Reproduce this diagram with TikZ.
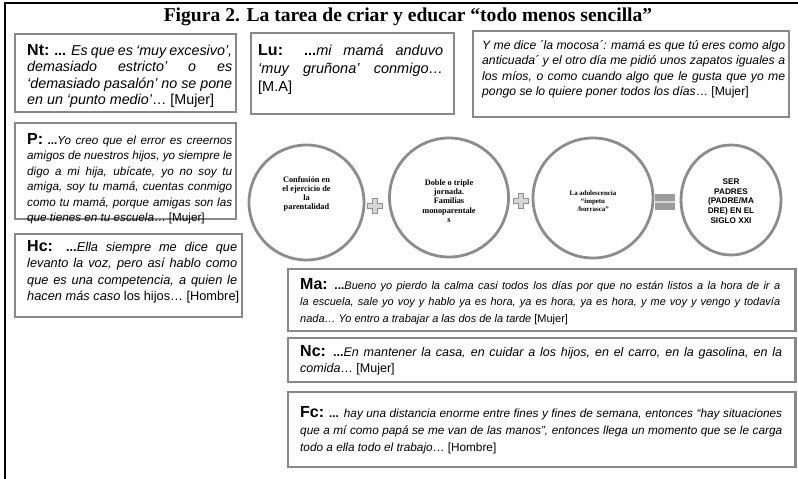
\documentclass[tikz,border=0pt]{standalone}
\usepackage{fontspec}
\setmainfont{Liberation Sans}
\newfontfamily\serifbf{Liberation Serif}
\usetikzlibrary{fit,shapes.geometric}
\definecolor{framegray}{HTML}{898989}
\definecolor{ringgray}{HTML}{8C8C8C}
\definecolor{pluslight}{HTML}{D6D6D6}
\definecolor{plusedge}{HTML}{8F8F8F}
\definecolor{eqgray}{HTML}{9C9C9C}
\newcommand{\lbl}[1]{{\fontsize{16}{16}\selectfont\bfseries #1}}
\newcommand{\fsz}[2]{\fontsize{#1}{#2}\selectfont}
\newcommand{\jl}[2]{\makebox[#1][s]{#2}}
\begin{document}
\begin{tikzpicture}[x=1pt,y=-1pt,
  qframe/.style={draw=framegray, line width=2.8pt, fill=white, inner sep=0pt},
  qtext/.style={anchor=north west, inner sep=0pt, align=left},
  ring/.style={draw=ringgray, line width=2.8pt, fill=white, inner sep=0pt},
  ringtext/.style={align=center, inner sep=0pt},
  plusop/.style={fill=pluslight, draw=plusedge, line width=0.9pt},
]
\useasboundingbox (0,0) rectangle (798,479);
\fill[white] (0,0) rectangle (798,479);

% outer frame (top and left edges visible)
\coordinate (fbl) at (5,479);
\coordinate (ftl) at (5,3);
\coordinate (ftr) at (798,3);
\draw[line width=1.2pt] (fbl) -- (ftl) -- (ftr);

% title
\node[anchor=base, inner sep=0pt, font=\serifbf\bfseries\fsz{19.6}{21}] (title) at (408,21)
  {Figura 2. La tarea de criar y educar “todo menos sencilla”};

% quote frames
\coordinate (nt-a) at (15,34);   \coordinate (nt-b) at (236,112);
\coordinate (p-a) at (15,123);   \coordinate (p-b) at (236,219);
\coordinate (hc-a) at (15,234);  \coordinate (hc-b) at (242,317);
\coordinate (lu-a) at (251,33);  \coordinate (lu-b) at (454,114);
\coordinate (ym-a) at (473,31);  \coordinate (ym-b) at (789,117);
\coordinate (ma-a) at (288,269); \coordinate (ma-b) at (795.5,331);
\coordinate (nc-a) at (288,338); \coordinate (nc-b) at (795.5,382);
\coordinate (fc-a) at (288,392); \coordinate (fc-b) at (795.5,467);
\foreach \n in {nt,p,hc,lu,ym,ma,nc,fc}{
  \node[qframe, fit=(\n-a)(\n-b)] (\n) {};
}

% quote texts
\node[qtext, font=\fsz{14.3}{16.5}] (ntT) at (27,44) {%
\jl{205pt}{\lbl{Nt:} \textbf{...} \textit{Es que es ‘muy excesivo’,}}\\
\jl{205pt}{\textit{demasiado estricto’ o es}}\\
\jl{205pt}{\textit{‘demasiado pasalón’ no se pone}}\\
\textit{en un ‘punto medio’}… {[Mujer]}};

\node[qtext, font=\fsz{11.7}{15.5}] (pT) at (27,133) {%
\jl{205pt}{\lbl{P:} \textbf{...}\textit{Yo creo que el error es creernos}}\\
\jl{205pt}{\textit{amigos de nuestros hijos, yo siempre le}}\\
\jl{205pt}{\textit{digo a mi hija, ubícate, yo no soy tu}}\\
\jl{205pt}{\textit{amiga, soy tu mamá, cuentas conmigo}}\\
\jl{205pt}{\textit{como tu mamá, porque amigas son las}}\\
\textit{que tienes en tu escuela}… {[Mujer]}};

\node[qtext, font=\fsz{12.8}{16.5}] (hcT) at (27,240) {%
\jl{210pt}{\lbl{Hc:} \textbf{...}\textit{Ella siempre me dice que}}\\
\jl{210pt}{\textit{levanto la voz, pero así hablo como}}\\
\jl{210pt}{\textit{que es una competencia, a quien le}}\\
\textit{hacen más caso} los hijos… {[Hombre]}};

\node[qtext, font=\fsz{14.5}{18}] (luT) at (258,44) {%
\jl{185pt}{\lbl{Lu:} \textbf{...}\textit{mi mamá anduvo}}\\
\jl{185pt}{\textit{‘muy gruñona’ conmigo…}}\\
{[M.A]}};

\node[qtext, font=\fsz{12.2}{15.5}] (ymT) at (482,40) {%
\jl{303pt}{\textit{Y me dice ´la mocosa´: mamá es que tú eres como algo}}\\
\jl{303pt}{\textit{anticuada´ y el otro día me pidió unos zapatos iguales a}}\\
\jl{303pt}{\textit{los míos, o como cuando algo que le gusta que yo me}}\\
\textit{pongo se lo quiere poner todos los días}… {[Mujer]}};

\node[qtext, font=\fsz{11}{16.5}] (maT) at (300,278) {%
\jl{480pt}{\lbl{Ma:} \textbf{\fsz{12}{12}...}\textit{Bueno yo pierdo la calma casi todos los días por que no están listos a la hora de ir a}}\\
\jl{480pt}{\textit{la escuela, sale yo voy y hablo ya es hora, ya es hora, ya es hora, y me voy y vengo y todavía}}\\
\textit{nada… Yo entro a trabajar a las dos de la tarde} {[Mujer]}};

\node[qtext, font=\fsz{12.5}{16.5}] (ncT) at (300,345) {%
\jl{482pt}{\lbl{Nc:} \textbf{...}\textit{En mantener la casa, en cuidar a los hijos, en el carro, en la gasolina, en la}}\\
\textit{comida}… {[Mujer]}};

\node[qtext, font=\fsz{11.8}{17}] (fcT) at (300,406) {%
\jl{482pt}{\lbl{Fc:} \textbf{...} \textit{hay una distancia enorme entre fines y fines de semana, entonces “hay situaciones}}\\
\jl{482pt}{\textit{que a mí como papá se me van de las manos”, entonces llega un momento que se le carga}}\\
\textit{todo a ella todo el trabajo}… {[Hombre]}};

% circles
\node[ring, circle, minimum size=115pt] (c1) at (306.5,202.5) {};
\node[ring, circle, minimum size=119pt] (c2) at (449,197.5) {};
\node[ring, circle, minimum size=120pt] (c3) at (593,198) {};
\node[ring, ellipse, minimum width=100pt, minimum height=110pt] (c4) at (731,200) {};

\node[ringtext, font=\serifbf\bfseries\fsz{8.3}{8.8}] (c1T) at (306.5,194)
  {Confusión en\\el ejercicio de\\la\\parentalidad};
\node[ringtext, font=\serifbf\bfseries\fsz{8.3}{9.2}] (c2T) at (449,201)
  {Doble o triple\\jornada.\\Familias\\monoparentale\\s};
\node[ringtext, font=\serifbf\bfseries\fsz{6.9}{7.8}] (c3T) at (593,201)
  {La adolescencia\\“ímpetu\\/borrasca”};
\node[ringtext, font=\bfseries\fsz{8.2}{9.6}] (c4T) at (731,201)
  {SER\\PADRES\\(PADRE/MA\\DRE) EN EL\\SIGLO XXI};

% operators
\foreach \cx/\cy in {375/206, 521/201}{
  \draw[plusop, shift={(\cx,\cy)}] (-2.8,-7.5) -- (2.8,-7.5) -- (2.8,-2.8) -- (7.5,-2.8)
    -- (7.5,2.8) -- (2.8,2.8) -- (2.8,7.5) -- (-2.8,7.5) -- (-2.8,2.8) -- (-7.5,2.8)
    -- (-7.5,-2.8) -- (-2.8,-2.8) -- cycle;
}
\coordinate (eq) at (665,202);
\fill[eqgray] ([shift={(-10,-8)}]eq) rectangle ([shift={(10,-1)}]eq);
\fill[eqgray] ([shift={(-10,1)}]eq) rectangle ([shift={(10,8)}]eq);
\fill[pluslight] ([shift={(-10,-1)}]eq) rectangle ([shift={(10,1)}]eq);
\end{tikzpicture}
\end{document}
